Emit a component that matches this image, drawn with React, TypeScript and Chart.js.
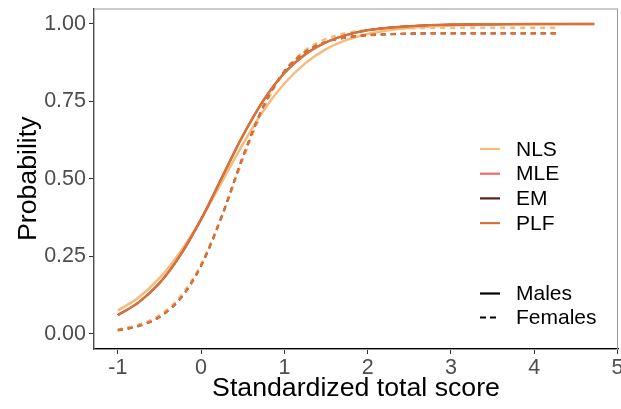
import React, { useEffect, useRef } from "react";
import { Chart, registerables } from "chart.js";

Chart.register(...registerables);

const xTicks = [-1, 0, 1, 2, 3, 4, 5];
const yTicks = [0, 0.25, 0.5, 0.75, 1];

const methods = ["NLS", "MLE", "EM", "PLF"];
const methodColors = ["#F4BC7C", "#F7666B", "#5E1E1E", "#D6723A"];
const sexLabels = ["Males", "Females"];

const xMales = [-1, -0.75, -0.5, -0.25, 0, 0.25, 0.5, 0.75, 1, 1.25, 1.5, 1.75, 2, 2.25, 2.5, 3, 3.5, 4, 4.72];
const xFemales = [-1, -0.75, -0.5, -0.25, 0, 0.25, 0.5, 0.75, 1, 1.25, 1.5, 1.75, 2, 2.25, 2.5, 3, 3.5, 4, 4.3];

const nlsMales = [0.076, 0.118, 0.18, 0.265, 0.37, 0.491, 0.612, 0.721, 0.808, 0.873, 0.919, 0.949, 0.968, 0.98, 0.988, 0.995, 0.998, 0.999, 1.0];
const mleMales = [0.061, 0.102, 0.164, 0.254, 0.37, 0.505, 0.639, 0.754, 0.842, 0.902, 0.941, 0.965, 0.98, 0.988, 0.993, 0.998, 0.999, 1.0, 1.0];
const emMales = [0.061, 0.102, 0.164, 0.254, 0.37, 0.505, 0.639, 0.754, 0.842, 0.902, 0.941, 0.965, 0.98, 0.988, 0.993, 0.998, 0.999, 1.0, 1.0];
const plfMales = [0.061, 0.102, 0.164, 0.254, 0.37, 0.505, 0.639, 0.754, 0.842, 0.902, 0.941, 0.965, 0.98, 0.988, 0.993, 0.998, 0.999, 1.0, 1.0];

const nlsFemales = [0.014, 0.03, 0.061, 0.121, 0.225, 0.38, 0.563, 0.728, 0.845, 0.915, 0.952, 0.971, 0.98, 0.984, 0.986, 0.988, 0.988, 0.988, 0.988];
const mleFemales = [0.012, 0.026, 0.055, 0.114, 0.22, 0.381, 0.57, 0.735, 0.847, 0.91, 0.942, 0.957, 0.964, 0.967, 0.969, 0.97, 0.97, 0.97, 0.97];
const emFemales = [0.012, 0.026, 0.055, 0.114, 0.22, 0.381, 0.57, 0.735, 0.847, 0.91, 0.942, 0.957, 0.964, 0.967, 0.969, 0.97, 0.97, 0.97, 0.97];
const plfFemales = [0.012, 0.026, 0.055, 0.114, 0.22, 0.381, 0.57, 0.735, 0.847, 0.91, 0.942, 0.957, 0.964, 0.967, 0.969, 0.97, 0.97, 0.97, 0.97];

const maleSeries = [nlsMales, mleMales, emMales, plfMales];
const femaleSeries = [nlsFemales, mleFemales, emFemales, plfFemales];

const FONT = '"Liberation Sans", Arial, sans-serif';

export default function App() {
  const ref = useRef<HTMLCanvasElement | null>(null);

  useEffect(() => {
    document.body.style.margin = "0";
    const canvas = ref.current;
    if (!canvas) return;

    // Chart.js draws the first dataset on top, so list PLF first and NLS last.
    const datasets: any[] = [];
    for (let i = methods.length - 1; i >= 0; i--) {
      // MLE and EM coincide with PLF and sit fully underneath it
      const w = i === 1 || i === 2 ? 1.8 : 2.5;
      datasets.push({
        label: methods[i] + " Males",
        data: xMales.map((x, j) => ({ x, y: maleSeries[i][j] })),
        borderColor: methodColors[i],
        borderWidth: w,
        pointRadius: 0,
        fill: false,
        cubicInterpolationMode: "monotone",
      });
      datasets.push({
        label: methods[i] + " Females",
        data: xFemales.map((x, j) => ({ x, y: femaleSeries[i][j] })),
        borderColor: methodColors[i],
        borderWidth: w,
        borderDash: [5, 5],
        pointRadius: 0,
        fill: false,
        cubicInterpolationMode: "monotone",
      });
    }

    const panelPlugin = {
      id: "panelBorder",
      beforeDatasetsDraw(chart: any) {
        const { ctx, chartArea } = chart;
        ctx.save();
        ctx.strokeStyle = "#9a9a9a";
        ctx.lineWidth = 1;
        ctx.strokeRect(chartArea.left, chartArea.top + 0.5, chartArea.right - chartArea.left - 0.5, chartArea.bottom - chartArea.top);
        ctx.restore();
      },
    };

    const legendPlugin = {
      id: "customLegend",
      afterDraw(chart: any) {
        const ctx = chart.ctx;
        ctx.save();
        ctx.font = "21px " + FONT;
        ctx.textBaseline = "middle";
        ctx.textAlign = "left";
        const keyX0 = 480;
        const keyX1 = 500;
        const textX = 516;
        const methodY = [149, 173.7, 198.4, 223.1];
        methods.forEach((m, i) => {
          ctx.strokeStyle = methodColors[i];
          ctx.lineWidth = 2.2;
          ctx.setLineDash([]);
          ctx.beginPath();
          ctx.moveTo(keyX0, methodY[i]);
          ctx.lineTo(keyX1, methodY[i]);
          ctx.stroke();
          ctx.fillStyle = "#000";
          ctx.fillText(m, textX, methodY[i] + 1);
        });
        const sexY = [293.5, 317.5];
        sexLabels.forEach((s, i) => {
          ctx.strokeStyle = "#000";
          ctx.lineWidth = 2.2;
          ctx.setLineDash(i === 0 ? [] : [6, 4]);
          ctx.beginPath();
          ctx.moveTo(keyX0, sexY[i]);
          ctx.lineTo(keyX1, sexY[i]);
          ctx.stroke();
          ctx.setLineDash([]);
          ctx.fillStyle = "#000";
          ctx.fillText(s, textX, sexY[i] + 1);
        });
        ctx.restore();
      },
    };

    const chart = new Chart(canvas, {
      type: "line",
      data: { datasets },
      options: {
        animation: false,
        responsive: false,
        devicePixelRatio: 1,
        layout: { autoPadding: false, padding: { top: 8.5, right: 3, left: 0, bottom: 0 } },
        plugins: { legend: { display: false }, tooltip: { enabled: false } },
        scales: {
          x: {
            type: "linear",
            min: -1.286,
            max: 5.006,
            afterBuildTicks: (axis: any) => {
              axis.ticks = xTicks.map((v) => ({ value: v }));
            },
            afterFit: (axis: any) => {
              axis.height = 60;
              axis.paddingLeft = 0;
              axis.paddingRight = 0;
              axis.paddingTop = 0;
              axis.paddingBottom = 0;
            },
            grid: { display: true, drawOnChartArea: false, drawTicks: true, tickLength: 5, color: "#333333", lineWidth: 1 },
            border: { display: true, color: "#000000", width: 1.2 },
            ticks: {
              color: "#4D4D4D",
              font: { family: FONT, size: 21.5 },
              padding: 1,
              maxRotation: 0,
              autoSkip: false,
              callback: (v: any) => String(v),
            },
            title: {
              display: true,
              text: "Standardized total score",
              color: "#000000",
              font: { family: FONT, size: 26.7 },
              padding: { top: 0, bottom: 4 },
            },
          },
          y: {
            type: "linear",
            min: -0.0484,
            max: 1.05,
            afterBuildTicks: (axis: any) => {
              axis.ticks = yTicks.map((v) => ({ value: v }));
            },
            afterFit: (axis: any) => {
              axis.width = 94;
              axis.paddingLeft = 0;
              axis.paddingRight = 0;
              axis.paddingTop = 0;
              axis.paddingBottom = 0;
            },
            grid: { display: true, drawOnChartArea: false, drawTicks: true, tickLength: 5, color: "#333333", lineWidth: 1 },
            border: { display: true, color: "#000000", width: 1.2 },
            ticks: {
              color: "#4D4D4D",
              font: { family: FONT, size: 21.5 },
              padding: 3,
              autoSkip: false,
              callback: (v: any) => Number(v).toFixed(2),
            },
            title: {
              display: true,
              text: "Probability",
              color: "#000000",
              font: { family: FONT, size: 26.7 },
              padding: { top: 13, bottom: 0 },
            },
          },
        },
      },
      plugins: [panelPlugin, legendPlugin],
    });

    return () => chart.destroy();
  }, []);

  return (
    <div style={{ position: "fixed", left: 0, top: 0, width: 621, height: 409, background: "#fff" }}>
      <canvas ref={ref} width={621} height={409} style={{ width: 621, height: 409, display: "block" }} />
    </div>
  );
}
